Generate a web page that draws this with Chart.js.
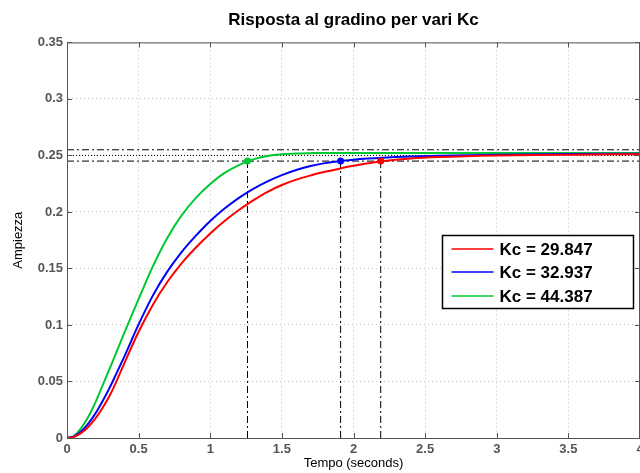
<!DOCTYPE html>
<html>
<head>
<meta charset="utf-8">
<script src="https://cdn.jsdelivr.net/npm/chart.js@4.4.1/dist/chart.umd.min.js"></script>
<style>
html, body { margin: 0; padding: 0; background: #fff; }
</style>
</head>
<body>
<canvas id="stepChart" width="640" height="473"></canvas>
<script>
// step response samples (time in seconds)
const times = [0, 0.05, 0.1, 0.15, 0.2, 0.25, 0.3, 0.35, 0.4, 0.5, 0.6, 0.7, 0.8, 0.9, 1.0, 1.1, 1.2, 1.3, 1.4, 1.5, 1.6, 1.7, 1.8, 1.9, 2.0, 2.1, 2.2, 2.4, 2.6, 3.0, 3.5, 4.0];
const respRed = [0, 0.001, 0.0045, 0.010, 0.0175, 0.027, 0.038, 0.0515, 0.066, 0.094, 0.118, 0.138, 0.1545, 0.1685, 0.181, 0.192, 0.2017, 0.2102, 0.2178, 0.2238, 0.2286, 0.2323, 0.2355, 0.2383, 0.2408, 0.243, 0.2449, 0.2473, 0.2486, 0.25, 0.2507, 0.2511];
const respBlue = [0, 0.0015, 0.006, 0.013, 0.022, 0.033, 0.045, 0.0585, 0.072, 0.1005, 0.1262, 0.1472, 0.1645, 0.179, 0.192, 0.203, 0.2125, 0.2205, 0.2271, 0.2326, 0.2371, 0.2407, 0.2432, 0.2449, 0.2462, 0.2472, 0.248, 0.2491, 0.2498, 0.2507, 0.2513, 0.2515];
const respGreen = [0, 0.002, 0.009, 0.019, 0.032, 0.047, 0.062, 0.0775, 0.093, 0.123, 0.152, 0.177, 0.197, 0.2125, 0.2247, 0.2345, 0.2415, 0.2465, 0.2495, 0.251, 0.2517, 0.252, 0.2522, 0.2522, 0.2522, 0.2522, 0.2522, 0.2522, 0.2522, 0.2522, 0.2522, 0.2522];

const kcLabels = ['Kc = 29.847', 'Kc = 32.937', 'Kc = 44.387'];
const kcColors = ['#ff0000', '#0000ff', '#00c832'];
const settleTimes = [2.19, 1.91, 1.26];   // where each curve enters the 2% band
const settleLevel = 0.245;
const bandLevels = [0.255, 0.245];
const finalLevel = 0.25;

const xTicks = [0, 0.5, 1, 1.5, 2, 2.5, 3, 3.5, 4];
const xTickLabels = ['0', '0.5', '1', '1.5', '2', '2.5', '3', '3.5', '4'];
const yTicks = [0, 0.05, 0.1, 0.15, 0.2, 0.25, 0.3, 0.35];
const yTickLabels = ['0', '0.05', '0.1', '0.15', '0.2', '0.25', '0.3', '0.35'];

const FONT = "'Liberation Sans', Arial, Helvetica, sans-serif";
const dashDot = [7, 3, 2, 3];

const curves = [respRed, respBlue, respGreen];

const datasets = [];

// markers at the settling points
settleTimes.forEach((t, i) => {
    datasets.push({
        label: 'mark' + i,
        data: [{ x: t, y: settleLevel }],
        showLine: false,
        pointRadius: 3.5,
        pointBorderWidth: 0,
        pointBackgroundColor: kcColors[i],
        pointBorderColor: kcColors[i]
    });
});

// the three responses
curves.forEach((vals, i) => {
    datasets.push({
        label: kcLabels[i],
        data: times.map((t, j) => ({ x: t, y: vals[j] })),
        borderColor: kcColors[i],
        backgroundColor: kcColors[i],
        borderWidth: 2,
        pointRadius: 0,
        cubicInterpolationMode: 'monotone',
        fill: false
    });
});

// 2% band lines
bandLevels.forEach((lv, i) => {
    datasets.push({
        label: 'band' + i,
        data: [{ x: xTicks[0], y: lv }, { x: xTicks[xTicks.length - 1], y: lv }],
        borderColor: '#000',
        borderWidth: 1,
        borderDash: dashDot,
        pointRadius: 0
    });
});

// final value line
datasets.push({
    label: 'final',
    data: [{ x: xTicks[0], y: finalLevel }, { x: xTicks[xTicks.length - 1], y: finalLevel }],
    borderColor: '#000',
    borderWidth: 1,
    borderDash: [1, 2],
    pointRadius: 0
});

// vertical drops from settling points
settleTimes.forEach((t, i) => {
    datasets.push({
        label: 'drop' + i,
        data: [{ x: t, y: 0 }, { x: t, y: settleLevel }],
        borderColor: '#000',
        borderWidth: 1,
        borderDash: dashDot,
        pointRadius: 0
    });
});

// box and inward tick marks like matlab
const frameTicks = {
    id: 'frameTicks',
    afterDraw(chart) {
        const { ctx, chartArea: a, scales } = chart;
        ctx.save();
        ctx.strokeStyle = '#555';
        ctx.lineWidth = 1;
        ctx.strokeRect(a.left + 0.5, a.top + 0.5, a.right - a.left - 1, a.bottom - a.top);
        ctx.beginPath();
        xTicks.forEach(v => {
            const px = Math.round(scales.x.getPixelForValue(v)) + 0.5;
            ctx.moveTo(px, a.bottom); ctx.lineTo(px, a.bottom - 5);
            ctx.moveTo(px, a.top); ctx.lineTo(px, a.top + 5);
        });
        yTicks.forEach(v => {
            const py = Math.round(scales.y.getPixelForValue(v)) + 0.5;
            ctx.moveTo(a.left, py); ctx.lineTo(a.left + 5, py);
            ctx.moveTo(a.right, py); ctx.lineTo(a.right - 5, py);
        });
        ctx.stroke();
        ctx.restore();
    }
};

// legend box inside the plot
const boxLegend = {
    id: 'boxLegend',
    afterDraw(chart) {
        const { ctx, chartArea: a } = chart;
        const w = 191, h = 73;
        const x0 = Math.round(a.right - 7 - w) + 0.5;
        const y0 = Math.round(a.top + 193) + 0.5;
        ctx.save();
        ctx.fillStyle = '#fff';
        ctx.fillRect(x0, y0, w, h);
        ctx.strokeStyle = '#000';
        ctx.lineWidth = 1.5;
        ctx.strokeRect(x0, y0, w, h);
        ctx.font = 'bold 17px ' + FONT;
        ctx.textBaseline = 'middle';
        ctx.textAlign = 'left';
        kcLabels.forEach((lab, i) => {
            const cy = Math.round(y0 + 13 + i * 23.5);
            ctx.strokeStyle = kcColors[i];
            ctx.lineWidth = 1.5;
            ctx.beginPath();
            ctx.moveTo(x0 + 9, cy);
            ctx.lineTo(x0 + 51, cy);
            ctx.stroke();
            ctx.fillStyle = '#000';
            ctx.fillText(lab, x0 + 57, cy + 1);
        });
        ctx.restore();
    }
};

new Chart(document.getElementById('stepChart'), {
    type: 'line',
    data: { datasets: datasets },
    options: {
        responsive: false,
        animation: false,
        devicePixelRatio: 1,
        layout: { autoPadding: false, padding: 0 },
        plugins: {
            legend: { display: false },
            tooltip: { enabled: false },
            title: {
                display: true,
                fullSize: false,
                text: 'Risposta al gradino per vari Kc',
                color: '#000',
                font: { family: FONT, size: 17, weight: 'bold' },
                padding: { top: 10, bottom: 12 }
            }
        },
        scales: {
            x: {
                type: 'linear',
                min: 0,
                max: 4,
                afterBuildTicks: s => { s.ticks = xTicks.map(v => ({ value: v })); },
                afterFit: s => { s.height = 35; s.paddingLeft = 0; s.paddingRight = 0; },
                ticks: {
                    callback: (v, i) => xTickLabels[i],
                    color: '#555',
                    font: { family: FONT, size: 13, weight: 'bold' },
                    padding: 4,
                    maxRotation: 0,
                    autoSkip: false
                },
                grid: { color: '#c4c4c4', lineWidth: 1, drawTicks: false },
                border: { display: true, color: '#555', width: 1, dash: [1, 3] },
                title: {
                    display: true,
                    text: 'Tempo (seconds)',
                    color: '#000',
                    font: { family: FONT, size: 13 },
                    padding: { top: 0, bottom: 2 }
                }
            },
            y: {
                type: 'linear',
                min: 0,
                max: 0.35,
                afterBuildTicks: s => { s.ticks = yTicks.map(v => ({ value: v })); },
                afterFit: s => { s.width = 67; s.paddingTop = 0; s.paddingBottom = 0; s.paddingRight = 0; },
                ticks: {
                    callback: (v, i) => yTickLabels[i],
                    color: '#555',
                    font: { family: FONT, size: 13, weight: 'bold' },
                    padding: 4,
                    autoSkip: false
                },
                grid: { color: '#c4c4c4', lineWidth: 1, drawTicks: false },
                border: { display: true, color: '#555', width: 1, dash: [1, 3] },
                title: {
                    display: true,
                    text: 'Ampiezza',
                    color: '#000',
                    font: { family: FONT, size: 13 },
                    padding: { top: 11, bottom: 0 }
                }
            }
        }
    },
    plugins: [frameTicks, boxLegend]
});
</script>
</body>
</html>
